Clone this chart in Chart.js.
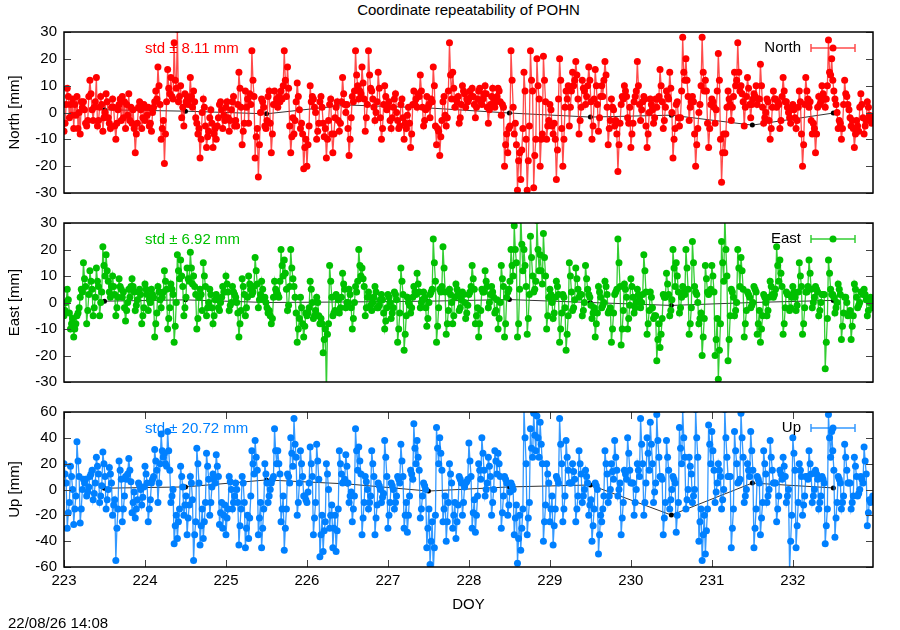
<!DOCTYPE html>
<html>
<head>
<meta charset="utf-8">
<script src="https://cdn.jsdelivr.net/npm/chart.js@4.4.1/dist/chart.umd.min.js"></script>
<style>
body{margin:0;background:#fff;width:900px;height:630px;position:relative;overflow:hidden;font-family:"Liberation Sans",Arial,sans-serif}
canvas{position:absolute;left:0;top:0}
#title{position:absolute;left:64px;width:809px;top:1px;text-align:center;font-size:15px;line-height:18px;color:#000}
#stamp{position:absolute;left:8px;top:614px;font-size:15px;line-height:18px;color:#000}
</style>
</head>
<body>
<div id="title">Coordinate repeatability of POHN</div>
<canvas id="north" width="900" height="630"></canvas>
<canvas id="east" width="900" height="630"></canvas>
<canvas id="up" width="900" height="630"></canvas>
<div id="stamp">22/08/26 14:08</div>
<script>
// epochs: *MM at START_DOY + i*STEP, *BandMM a third of a step later, *MidMM two thirds later
const START_DOY = 223.0;
const STEP = 0.04;

// residuals in mm, one line per day (223 .. 232)
const northMM = [
-7, 9, 3, -6, 6, -8, 4, -5, 12, -3, 13, 2, -7, 7, -4, 5, -10, 3, 6, -6, 7, -4, -15, 2, -6,
-3, 2, -7, 4, 17, -10, -19, 16, 13, 26, 31, 10, -5, 6, 13, 8, -4, -17, 5, -13, -2, -13, -10, 3, -6,
2, -7, 4, -3, 15, -12, 8, -4, 23, -17, -24, 5, -5, 6, -15, 8, 2, 8, 23, 17, -15, -8, 11, -6, -21,
-20, 10, 5, -10, 4, -4, -17, 3, -15, 2, -7, 13, 0, -16, 6, 23, 5, 17, -7, 23, 8, -3, 15, -10, 10,
2, -6, 5, -3, 3, -10, -1, -13, 8, 2, 14, -5, 6, -2, 17, -12, -16, 4, -5, 26, 15, 5, -4, 10, 2,
5, 9, -2, 8, 3, 10, -4, 6, 2, 9, -1, -20, -15, 23, -8, -29, -25, 15, -29, 23, -28, 20, -20, 21, -10,
3, -8, -25, 20, -20, 8, -5, 15, 19, -8, 12, 3, 17, -10, 16, -7, 10, 19, -12, 5, -5, -22, 3, 10, -2,
-13, 4, 19, -3, 6, -13, 5, -4, 2, 16, -6, 8, 15, -17, 3, -5, 28, 20, -3, 6, -20, 0, 28, 12, -13,
5, -4, 22, -26, -15, 8, -3, 15, 26, 10, -5, 13, -2, 7, 3, 18, -4, 5, -10, 8, 2, -6, 13, 4, -2,
3, -6, 8, -20, 13, 2, -8, -15, 6, 10, 2, 27, 20, 5, -6, -10, 12, 3, -5, -13, -5, 7, -8, 4, -3
];
const northBandMM = [
-4, 6, -1, 3, -6, 4, 1, -3, 7, 2, -5, 6, -2, 4, -6, 2, -4, 5, -2, 3, -3, 1, -8, 4, -2,
2, -5, 0, 8, 10, -6, -8, 9, 6, 12, 4, -2, 7, 3, 6, 4, -8, -10, 2, -9, 1, -8, -5, 4, -1,
4, -3, 6, -5, 9, -7, 2, 7, 12, -9, -12, 4, -6, 8, -8, 3, 6, 5, 12, 9, -9, -3, 6, -4, -13,
-12, 4, 2, -7, 6, -9, -10, 5, -8, 4, -4, 7, 3, -10, 4, 14, 8, 11, -2, 14, 5, 0, 9, -6, 6,
4, -2, 7, -6, 5, -4, 2, -8, 3, 7, 8, -3, 2, 5, 10, -6, -9, 6, -2, 14, 9, 4, -2, 8, 5,
8, 6, 2, 9, 5, 7, 1, 9, 4, 8, 3, -12, -6, 12, -4, -18, -14, 8, -18, 12, -16, 10, -10, 12, -5,
1, -4, -14, 12, -10, 5, 2, 10, 14, -3, 9, 6, 12, -5, 10, -2, 6, 14, -6, 2, -3, -12, 6, 8, -4,
-8, 6, 10, 1, 5, -8, 3, -2, 5, 10, -3, 6, 9, -10, 4, -2, 15, 12, 2, 4, -12, 3, 15, 8, -6,
4, 1, 12, -15, -8, 5, 2, 10, 15, 7, 2, 9, 3, 6, 5, 10, -2, 4, -6, 5, 4, -3, 8, 2, -4,
1, -3, 4, -12, 8, 4, -4, -8, 3, 7, 5, 15, 12, 3, -3, -6, 7, 1, -3, -8, -7, 3, -5, 2, -4
];
const northMidMM = [
3, -2, 5, -1, 0, 2, -4, 6, 1, 4, -3, 3, 0, -2, 2, -5, 1, -3, 4, -1, 2, -6, -4, 1, 3,
-1, -4, 2, 5, 3, -3, 4, 7, 5, 9, 6, 2, 4, 5, 2, -2, -6, 0, -5, -7, -4, -6, -2, 1, -3,
-2, 1, -5, 3, 2, -4, 5, 3, 6, -6, 0, 2, -3, -4, 3, 5, 4, 10, 6, -5, -2, 4, 1, -8, -10,
-5, 6, 0, -4, 2, -6, -3, -8, -2, -3, 4, 3, -6, -2, 8, 10, 7, 5, 3, 9, 2, 4, -2, 3, 1,
-3, 2, 0, -5, -2, -6, -4, 3, 5, 6, 2, 1, 3, 4, -5, -7, -3, -1, 8, 5, 2, 6, 3, 7, 4,
6, 3, 5, 4, 7, 2, 3, 5, 6, 4, 2, -8, -5, 2, -12, -15, -6, -10, -5, 8, -10, 5, -8, 4, -3,
-5, -10, 5, -6, 2, 10, 8, 12, 5, 2, 8, 10, 4, 5, 3, 6, 12, 2, -3, 1, -8, -4, 5, 6, 2,
-4, 8, 3, 4, -5, 0, 1, 5, 6, 4, 2, 5, 0, -6, -2, 8, 12, 6, 4, -8, -6, 10, 8, -4, 3,
2, 8, -10, -8, 2, 3, 6, 12, 8, 4, 6, 3, 5, 10, 5, 2, 0, -3, 2, 5, 3, 6, 4, 0, 2,
-2, 2, -8, 3, 5, -3, -6, 2, 4, 5, 10, 14, 8, 0, -4, 3, 6, -2, -6, -3, 2, -2, -3, -1, -2
];
const eastMM = [
-5, 5, -10, -13, -5, 2, 15, -8, 12, -5, 13, -5, 21, 18, 4, 10, -5, 9, 2, -7, 5, 9, -3, 4, -8,
7, -3, 5, -13, 6, -2, 12, -10, 7, -15, 18, 16, -5, 13, 19, 10, -10, 5, 15, -5, 5, -8, 3, -3, 6,
10, -3, 6, 2, -13, 9, -5, 10, 3, 17, -2, 8, 2, -4, -8, 8, 3, 20, 16, -3, 20, 6, -15, 2, -13,
-5, 8, -6, 2, -8, -19, -34, 14, -5, 3, -4, 11, -2, 5, -10, 6, 20, 13, -5, 4, -3, 6, -2, 3, -10,
3, -6, 4, -15, 13, -18, 2, -4, 6, 11, -2, 4, -9, 3, 24, -15, 5, 21, -12, 5, -8, 7, -3, 4, -6,
3, 14, -8, -13, 5, 12, -2, 6, -4, -10, 14, -13, 4, 20, 29, -13, 34, 20, -12, 25, 4, 31, 18, 26, -10,
5, -6, 8, -15, 3, -18, 15, -3, 13, 2, -5, 14, 3, -6, -13, 6, -2, 8, -4, -15, 3, 24, -16, 7, -10,
9, -4, 5, -2, 18, -12, 4, -6, -22, -17, 3, 11, -5, 20, 15, -4, 6, 20, -12, 23, 4, -8, -20, 14, 3,
14, -20, -29, 23, 33, -22, 5, -5, 20, 17, -13, 4, -2, 6, -12, -15, 3, -5, 8, 2, 21, 16, -12, 4, -3,
6, -3, 15, -12, 4, 16, -2, 6, -5, 3, -25, 16, 3, -4, 7, -14, 2, -5, -14, 7, -2, 4, 5, -5, 2
];
const eastBandMM = [
-3, 1, -8, -10, -4, 5, 9, -3, 8, -2, 8, 0, 14, 12, 2, 6, -2, 6, 4, -3, 2, 6, -1, 5, -5,
5, 1, 3, -8, 4, 2, 8, -6, 5, -9, 12, 10, -2, 9, 13, 6, -6, 3, 10, -2, 3, -5, 1, 0, 4,
7, -1, 4, 0, -8, 6, -2, 7, 4, 12, 1, 5, 0, -3, -6, 5, 2, 14, 11, -1, 13, 2, -10, -2, -9,
-4, 5, -5, 0, -6, -14, -12, 8, -4, 2, -2, 7, 0, 3, -6, 4, 14, 9, -2, 2, 0, 4, -1, 1, -7,
2, -4, 3, -10, 8, -12, 0, -2, 4, 7, 0, 2, -6, 4, 15, -9, 4, 13, -8, 3, -5, 5, -2, 3, -4,
4, 9, -5, -8, 4, 8, 0, 4, -3, -6, 9, -8, 5, 14, 20, -8, 22, 14, -6, 17, 5, 20, 12, 17, -5,
3, -4, 6, -10, 2, -12, 10, -2, 9, 3, -3, 9, 2, -4, -8, 4, -1, 6, -3, -10, 4, 15, -10, 5, -6,
6, -2, 3, 0, 12, -8, 2, -5, -14, -12, 2, 7, -3, 13, 10, -2, 4, 13, -8, 15, 3, -6, -13, 9, 4,
10, -14, -18, 15, 20, -14, 4, -3, 13, 12, -8, 3, -1, 5, -8, -10, 2, -3, 6, 3, 14, 11, -8, 3, -2,
4, -1, 10, -8, 4, 11, 0, 5, -3, 3, -15, 11, 3, -2, 5, -9, 2, -4, -9, 5, -1, 4, 3, -3, 1
];
const eastMidMM = [
0, -4, -6, -8, -2, 4, 6, 3, 5, 2, 6, 4, 10, 8, 6, 3, 2, 5, -2, 0, 6, 4, 1, 3, -2,
3, 0, 2, -4, 1, 4, 5, -2, 3, 0, 9, 6, 2, 8, 7, 3, 2, -3, 6, 0, -2, 1, -2, 2, 4,
4, 0, 3, -4, -3, 3, 2, 5, 6, 7, 3, 1, -2, -5, 2, 4, 8, 10, 5, 6, 9, -4, -6, -8, -4,
-2, 0, -3, -5, -8, -10, -8, 2, -3, 1, 2, 5, 0, -2, 0, 8, 10, 6, 2, -1, 2, -2, 1, -4, -2,
0, -2, 1, -4, 3, -5, -1, 2, 3, 4, 1, -2, 0, 5, 8, -2, 6, 4, -3, 0, 2, 3, 1, 0, -1,
6, 5, -2, -3, 4, 6, 3, 2, 1, 0, 6, 2, 8, 10, 15, 5, 12, 6, 3, 10, 8, 12, 7, 10, 2,
0, 2, 3, -4, -2, -5, 4, 1, 5, 3, 0, 5, -1, -2, -4, 2, 0, 3, -2, -4, 5, 6, -3, 2, -1,
2, 0, 1, 3, 4, -3, -2, -5, -8, -6, 2, 3, 1, 6, 4, 2, 3, 5, -2, 6, 0, -4, -6, 4, 5,
4, -6, -8, 8, 10, -5, 2, 0, 6, 5, -3, 2, 0, 4, -3, -5, 0, 2, 3, 5, 8, 6, -2, 3, 2,
2, 4, 6, -2, 6, 5, 2, 4, 0, 3, -6, 5, 2, 0, 3, -4, 0, -3, -5, 2, 0, 3, 1, 0, -2
];
const upMM = [
20, -30, 18, -27, 37, -26, 8, -5, 10, -8, 25, -10, 29, -15, 17, -20, -55, 22, -25, 10, 24, -18, -22, 5, -12,
18, -25, 5, 31, -10, 43, 28, 45, -10, -42, -38, 18, -20, -35, 10, -55, 32, -43, -38, 28, -20, 12, 27, -27, -30,
-35, 10, -15, 5, -43, 10, -45, -38, 30, 38, -35, -45, 20, -10, 5, 47, 30, -25, -47, 12, 40, 55, -20, 30, -5,
-10, 33, -35, 35, -52, -48, 20, -30, -45, -48, 30, 5, 27, -10, -25, 47, 33, -35, 10, -15, 30, -35, 5, -10, 38,
-30, 5, -15, 10, 35, -30, -33, 15, 51, 38, -22, 5, -45, -58, -63, 48, 40, -25, -40, 20, -30, -38, 10, -20, 5,
36, -30, -33, 20, 40, -5, 25, -20, 30, 28, -30, 10, -20, 5, -35, -57, -47, 63, -35, 47, 59, 57, 52, -40, 20,
-25, -43, 10, 55, -25, 38, 5, 20, -25, 30, -10, 15, -20, -40, 5, -50, -25, 30, -10, 20, 38, -5, -35, 15, 40,
5, -20, 20, 55, -20, 40, 52, -10, 58, 10, -35, 38, -15, 10, -33, 48, 62, -15, 25, -10, 62, -40, -55, -50, 50,
45, -10, 20, -15, 62, 10, -45, 45, 5, 59, -10, 20, 45, -45, 10, -35, 30, -10, 38, 5, -25, 15, 25, -10, -63,
40, -45, 20, -20, 10, 30, -10, 15, -15, 10, -42, 58, 45, -37, 10, -15, 35, 5, -15, 25, -5, 10, 33, -28, -10
];
const upBandMM = [
12, -18, 10, -15, 22, -15, 5, -2, 12, -3, 18, -5, 20, -8, 12, -12, -30, 15, -15, 8, 15, -10, -15, 3, -6,
12, -15, 8, 22, 5, 30, 20, 30, -5, -28, -25, 10, -12, -22, 5, -35, 20, -28, -25, 18, -10, 8, 18, -18, -20,
-22, 6, -10, 0, -28, 5, -30, -22, 20, 25, -22, -30, 12, -5, 8, 30, 20, -15, -30, 10, 28, 35, -10, 20, -5,
-2, 20, -22, 22, -35, -32, 12, -20, -30, -32, 20, 6, 18, -5, -15, 30, 22, -22, 6, -10, 20, -22, 3, -6, 25,
-20, 3, -10, 8, 22, -20, -20, 12, 32, 25, -15, 3, -30, -40, -45, 32, 28, -15, -25, 12, -20, -25, 8, -10, 6,
22, -18, -20, 15, 28, 0, 18, -10, 22, 20, -18, 8, -12, 3, -22, -38, -30, 40, -22, 32, 42, 40, 35, -25, 12,
-15, -28, 8, 35, -15, 25, 5, 14, -15, 20, -5, 10, -12, -28, 3, -35, -15, 20, -5, 14, 25, 0, -22, 12, 28,
5, -10, 15, 35, -10, 28, 35, -2, 38, 10, -22, 25, -8, 8, -20, 32, 40, -8, 18, -5, 40, -25, -35, -32, 35,
30, -2, 15, -8, 40, 10, -30, 30, 6, 40, -5, 15, 30, -30, 8, -22, 20, -5, 25, 5, -15, 12, 18, -5, -40,
28, -28, 15, -12, 10, 20, -5, 12, -10, 8, -28, 40, 30, -22, 8, -10, 25, 5, -10, 18, -3, 8, 22, -18, -8
];
const upMidMM = [
5, -10, 0, -5, 10, 0, 8, 2, 15, 5, 12, 3, 10, 0, 5, -8, -15, 8, -5, 12, 6, -2, -8, 0, 2,
5, -8, 10, 15, 20, 25, 18, 15, 0, -20, -15, 2, -5, -12, -8, -25, 5, -15, -10, 8, 2, 5, 10, -10, -12,
-15, 0, -5, -10, -15, -10, -20, -5, 12, 15, -10, -15, 5, 0, 10, 20, 12, -5, -15, 5, 18, 25, 5, 10, -8,
5, 10, -10, 8, -20, -25, 0, -12, -20, -15, 12, 8, 5, -2, -5, 15, 12, -10, 0, -5, 10, -12, 0, -3, 10,
-10, 0, -5, 5, 10, -10, -5, 8, 20, 15, -5, 0, -15, -25, -20, 20, 15, -5, -10, 5, -10, -12, 5, 2, 8,
10, -8, -5, 8, 15, 5, 10, 0, 12, 10, -5, 5, -2, 0, -12, -20, -15, 20, -10, 25, 30, 25, 20, -12, 5,
-5, -15, 5, 20, -5, 15, 5, 8, -5, 12, 0, 5, -8, -15, 0, -20, -5, 12, 0, 8, 15, 5, -10, 8, 15,
5, 0, 10, 20, 5, 15, 20, 5, 25, 8, -10, 15, 0, 5, -10, 20, 25, 0, 12, 0, 25, -15, -20, -15, 20,
15, 5, 10, 0, 25, 10, -15, 20, 8, 25, 0, 10, 15, -15, 5, -10, 12, 0, 15, 5, -5, 8, 10, 0, -20,
15, -10, 10, -5, 8, 12, 0, 8, -5, 5, -15, 25, 15, -10, 5, -5, 15, 5, -5, 10, 0, 5, 12, -8, -5
];

// daily means (black)
const meanDOY = [223.5, 224.5, 225.5, 226.5, 227.5, 228.5, 229.5, 230.5, 231.5, 232.5];
const northMean = [1, 0.5, -0.5, 2.8, 1.7, -0.2, -1.7, -1.0, -4.7, -0.2];
const eastMean = [0.5, 1, 0, 0.2, 0.5, 1.1, 0, -1.1, 0, 0.8];
const upMean = [1, 2, 7.4, 4.3, -1.2, 2, 3.5, -19.8, 5, 1.2];

const neTicks = [-30, -20, -10, 0, 10, 20, 30];
const upTicks = [-60, -40, -20, 0, 20, 40, 60];
const doyTicks = [223, 224, 225, 226, 227, 228, 229, 230, 231, 232];

const FONT = {family: "'Liberation Sans', Arial, sans-serif", size: 15};

const framePlugin = {
  id: 'frame',
  afterDraw(chart, args, o) {
    const {ctx, chartArea: a, scales: {x, y}} = chart;
    ctx.save();
    ctx.strokeStyle = '#444';
    ctx.lineWidth = 1;
    ctx.beginPath();
    o.yTicks.forEach(v => {
      const py = Math.round(y.getPixelForValue(v)) + 0.5;
      ctx.moveTo(a.left, py); ctx.lineTo(a.left + 7, py);
      ctx.moveTo(a.right - 7, py); ctx.lineTo(a.right, py);
    });
    if (o.xTicks) {
      doyTicks.forEach(v => {
        const px = Math.round(x.getPixelForValue(v)) + 0.5;
        ctx.moveTo(px, a.bottom); ctx.lineTo(px, a.bottom - 7);
        ctx.moveTo(px, a.top); ctx.lineTo(px, a.top + 7);
      });
    }
    ctx.stroke();
    ctx.strokeStyle = '#000';
    ctx.lineWidth = 1.5;
    ctx.strokeRect(a.left, a.top, a.right - a.left, a.bottom - a.top);

    // std label
    ctx.font = "15px 'Liberation Sans', Arial, sans-serif";
    ctx.textBaseline = 'middle';
    ctx.fillStyle = o.color;
    ctx.textAlign = 'left';
    ctx.fillText(o.std, a.left + 81, a.top + 16.5);

    // key
    const ky = a.top + 16;
    ctx.fillStyle = '#000';
    ctx.textAlign = 'right';
    ctx.fillText(o.label, a.right - 72, ky);
    ctx.strokeStyle = o.light;
    ctx.lineWidth = 1.5;
    ctx.beginPath();
    ctx.moveTo(a.right - 62, ky); ctx.lineTo(a.right - 18, ky);
    ctx.moveTo(a.right - 62, ky - 4); ctx.lineTo(a.right - 62, ky + 4);
    ctx.moveTo(a.right - 18, ky - 4); ctx.lineTo(a.right - 18, ky + 4);
    ctx.stroke();
    ctx.fillStyle = o.color;
    ctx.beginPath();
    ctx.arc(a.right - 40, ky, 3.5, 0, Math.PI * 2);
    ctx.fill();
    ctx.restore();
  }
};

function toPoints(main, band, mid) {
  const out = [];
  main.forEach((v, i) => {
    const t = START_DOY + i * STEP;
    out.push({x: t, y: v});
    out.push({x: t + STEP / 3, y: band[i]});
    out.push({x: t + 2 * STEP / 3, y: mid[i]});
  });
  return out;
}

function makePanel(id, main, band, mid, means, p) {
  const mpts = means.map((v, i) => ({x: meanDOY[i], y: v}));
  return new Chart(document.getElementById(id), {
    type: 'line',
    data: {
      datasets: [{
        label: p.label,
        data: toPoints(main, band, mid),
        borderColor: p.light,
        borderWidth: 1.3,
        pointRadius: 3.5,
        pointBorderWidth: 0,
        pointBackgroundColor: p.color,
        order: 0
      }, {
        label: 'mean',
        data: mpts,
        borderColor: '#333',
        borderWidth: 1,
        pointRadius: 2.5,
        pointBorderWidth: 0,
        pointBackgroundColor: '#000',
        order: 1
      }]
    },
    options: {
      responsive: false,
      animation: false,
      devicePixelRatio: 1,
      events: [],
      layout: {padding: p.pad},
      plugins: {
        legend: {display: false},
        tooltip: {enabled: false},
        frame: {yTicks: p.yTicks, xTicks: p.showX, std: p.std, label: p.label, color: p.color, light: p.light}
      },
      scales: {
        x: {
          type: 'linear',
          min: 223,
          max: 232.99,
          display: p.showX,
          grid: {display: false, drawTicks: false},
          border: {display: false},
          afterBuildTicks: s => { s.ticks = doyTicks.map(v => ({value: v})); },
          ticks: {color: '#000', font: FONT, padding: 5, maxRotation: 0, autoSkip: false},
          title: {display: p.showX, text: 'DOY', color: '#000', font: FONT, padding: {top: 0, bottom: 3}},
          afterFit: s => { if (p.showX) s.height = 50; }
        },
        y: {
          min: p.yTicks[0],
          max: p.yTicks[p.yTicks.length - 1],
          grid: {display: false, drawTicks: false},
          border: {display: false},
          afterBuildTicks: s => { s.ticks = p.yTicks.map(v => ({value: v})); },
          ticks: {color: '#000', font: FONT, padding: 7},
          title: {display: true, text: p.label + ' [mm]', color: '#000', font: FONT, padding: {top: 6, bottom: 0}},
          afterFit: s => { s.width = 64; }
        }
      }
    },
    plugins: [framePlugin]
  });
}

makePanel('north', northMM, northBandMM, northMidMM, northMean, {
  label: 'North', std: 'std \u00b1 8.11 mm', color: '#ff0000', light: 'rgba(255,30,30,0.8)',
  yTicks: neTicks, showX: false, pad: {left: 0, right: 27, top: 32, bottom: 437}
});
makePanel('east', eastMM, eastBandMM, eastMidMM, eastMean, {
  label: 'East', std: 'std \u00b1 6.92 mm', color: '#00c000', light: 'rgba(0,192,0,0.8)',
  yTicks: neTicks, showX: false, pad: {left: 0, right: 27, top: 223, bottom: 248}
});
makePanel('up', upMM, upBandMM, upMidMM, upMean, {
  label: 'Up', std: 'std \u00b1 20.72 mm', color: '#0080ff', light: 'rgba(0,128,255,0.8)',
  yTicks: upTicks, showX: true, pad: {left: 0, right: 27, top: 412, bottom: 13}
});
</script>
</body>
</html>
